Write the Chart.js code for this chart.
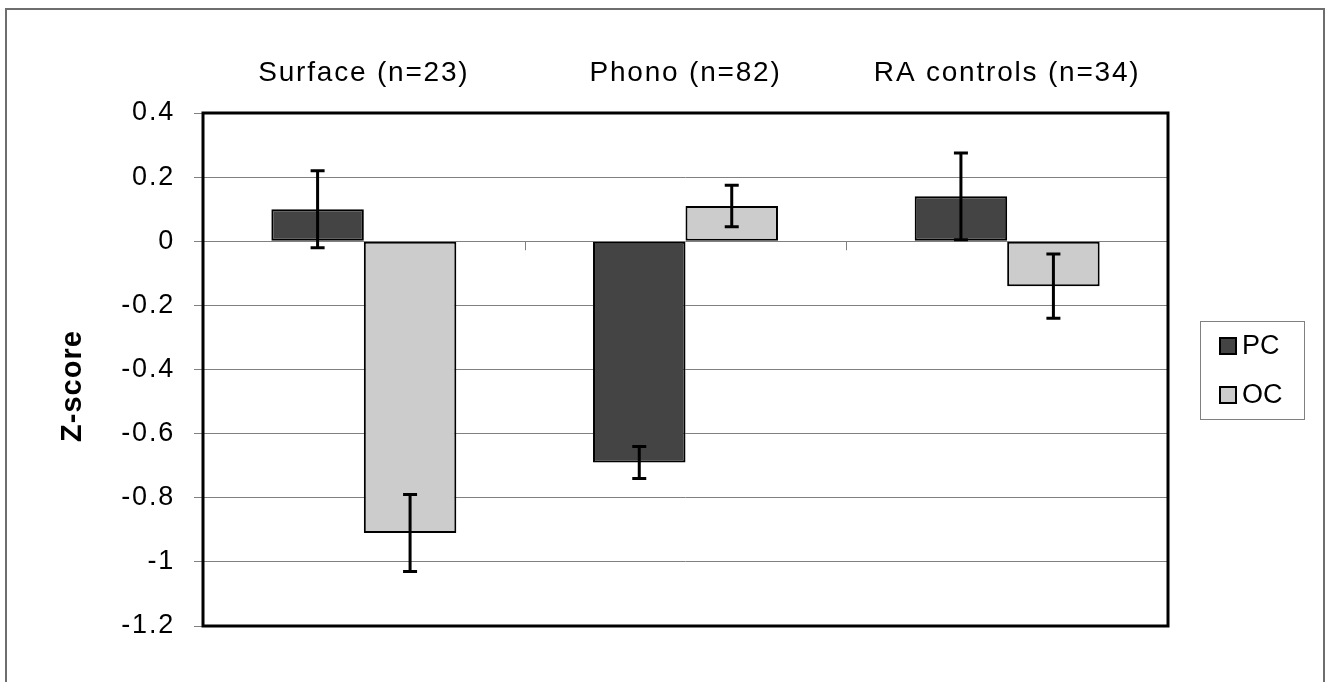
<!DOCTYPE html>
<html lang="en">
<head>
  <meta charset="UTF-8" />
  <title>Z-score by group</title>
  <script src="https://cdn.jsdelivr.net/npm/chart.js"></script>
  <style>
    body { margin: 0; background: #fff; }
    .chart-container { width: 1332px; height: 682px; }
  </style>
</head>
<body>
  <div class="chart-container">
    <canvas id="zchart"></canvas>
  </div>

  <script>
    // data
    const categories = ['Surface (n=23)', 'Phono (n=82)', 'RA controls (n=34)'];
    const seriesNames = ['PC', 'OC'];
    const pcValues = [0.10, -0.69, 0.14];
    const ocValues = [-0.91, 0.11, -0.14];
    const pcErr = [0.12, 0.05, 0.135];
    const ocErr = [0.12, 0.065, 0.10];
    const yTicks = [0.4, 0.2, 0, -0.2, -0.4, -0.6, -0.8, -1, -1.2];
    const yTitle = 'Z-score';

    const FONT = '"Liberation Sans", Arial, sans-serif';
    const errors = [pcErr, ocErr];

    const extras = {
      id: 'extras',
      beforeDraw(chart) {
        const ctx = chart.ctx;
        ctx.save();
        ctx.strokeStyle = '#6e6e6e';
        ctx.lineWidth = 2;
        ctx.strokeRect(6, 9, 1318, 700);
        ctx.restore();
        // the source text is slightly stretched sideways
        ctx.letterSpacing = '1.8px';
      },
      afterDatasetsDraw(chart) {
        const ctx = chart.ctx;
        const a = chart.chartArea;
        const xs = chart.scales.x, ys = chart.scales.y;
        ctx.save();

        // small ticks on the zero line between categories
        const y0 = ys.getPixelForValue(0);
        ctx.strokeStyle = '#808080';
        ctx.lineWidth = 1;
        for (let j = 1; j < categories.length; j++) {
          const x = Math.round(xs.getPixelForValue(j - 0.5)) + 0.5;
          ctx.beginPath();
          ctx.moveTo(x, y0);
          ctx.lineTo(x, y0 + 9);
          ctx.stroke();
        }

        // error bars
        ctx.strokeStyle = '#000';
        ctx.lineWidth = 3;
        chart.data.datasets.forEach((ds, i) => {
          const meta = chart.getDatasetMeta(i);
          meta.data.forEach((bar, j) => {
            const v = ds.data[j], e = errors[i][j];
            const yt = ys.getPixelForValue(v + e), yb = ys.getPixelForValue(v - e);
            ctx.beginPath();
            ctx.moveTo(bar.x, yt); ctx.lineTo(bar.x, yb);
            ctx.moveTo(bar.x - 7, yt); ctx.lineTo(bar.x + 7, yt);
            ctx.moveTo(bar.x - 7, yb); ctx.lineTo(bar.x + 7, yb);
            ctx.stroke();
          });
        });

        // plot area border
        ctx.lineWidth = 3;
        ctx.strokeRect(a.left, a.top, a.right - a.left, a.bottom - a.top);

        // y axis title
        ctx.fillStyle = '#000';
        ctx.font = 'bold 29px ' + FONT;
        ctx.letterSpacing = '1px';
        ctx.textAlign = 'center';
        ctx.textBaseline = 'middle';
        ctx.translate(73, 386);
        ctx.rotate(-Math.PI / 2);
        ctx.fillText(yTitle, 0, 0);
        ctx.setTransform(1, 0, 0, 1, 0, 0);

        // legend box
        ctx.letterSpacing = '0px';
        ctx.strokeStyle = '#808080';
        ctx.lineWidth = 1;
        ctx.strokeRect(1200.5, 321.5, 104, 98);
        ctx.font = '27px ' + FONT;
        ctx.textAlign = 'left';
        chart.data.datasets.forEach((ds, i) => {
          const cy = 346 + i * 49;
          ctx.fillStyle = ds.backgroundColor;
          ctx.fillRect(1220, cy - 8, 16, 16);
          ctx.strokeStyle = '#000';
          ctx.lineWidth = 2;
          ctx.strokeRect(1220, cy - 8, 16, 16);
          ctx.fillStyle = '#000';
          ctx.fillText(ds.label, 1242, cy + 1);
        });
        ctx.restore();
      }
    };

    new Chart(document.getElementById('zchart'), {
      type: 'bar',
      data: {
        labels: categories,
        datasets: [
          { label: seriesNames[0], data: pcValues, backgroundColor: '#444444' },
          { label: seriesNames[1], data: ocValues, backgroundColor: '#cccccc' }
        ]
      },
      options: {
        responsive: true,
        maintainAspectRatio: false,
        animation: false,
        layout: { padding: { left: 0, right: 164, top: 0, bottom: 56 } },
        datasets: {
          bar: {
            borderColor: '#000',
            borderWidth: 2,
            borderSkipped: false,
            categoryPercentage: 0.575,
            barPercentage: 1
          }
        },
        plugins: {
          legend: { display: false },
          tooltip: { enabled: false }
        },
        scales: {
          x: {
            position: 'top',
            grid: { display: false, drawTicks: false },
            border: { display: false },
            ticks: { color: '#000', padding: 23, font: { family: FONT, size: 28 } },
            afterFit: (s) => { s.height = 113; }
          },
          y: {
            min: -1.2,
            max: 0.4,
            afterBuildTicks: (s) => { s.ticks = yTicks.map(v => ({ value: v })); },
            grid: { color: '#808080', lineWidth: 1, tickLength: 9 },
            border: { display: false },
            ticks: {
              color: '#000',
              padding: 19,
              font: { family: FONT, size: 27 },
              callback: (v) => String(Math.round(v * 10) / 10)
            },
            afterFit: (s) => { s.width = 203; }
          }
        }
      },
      plugins: [extras]
    });
  </script>
</body>
</html>
